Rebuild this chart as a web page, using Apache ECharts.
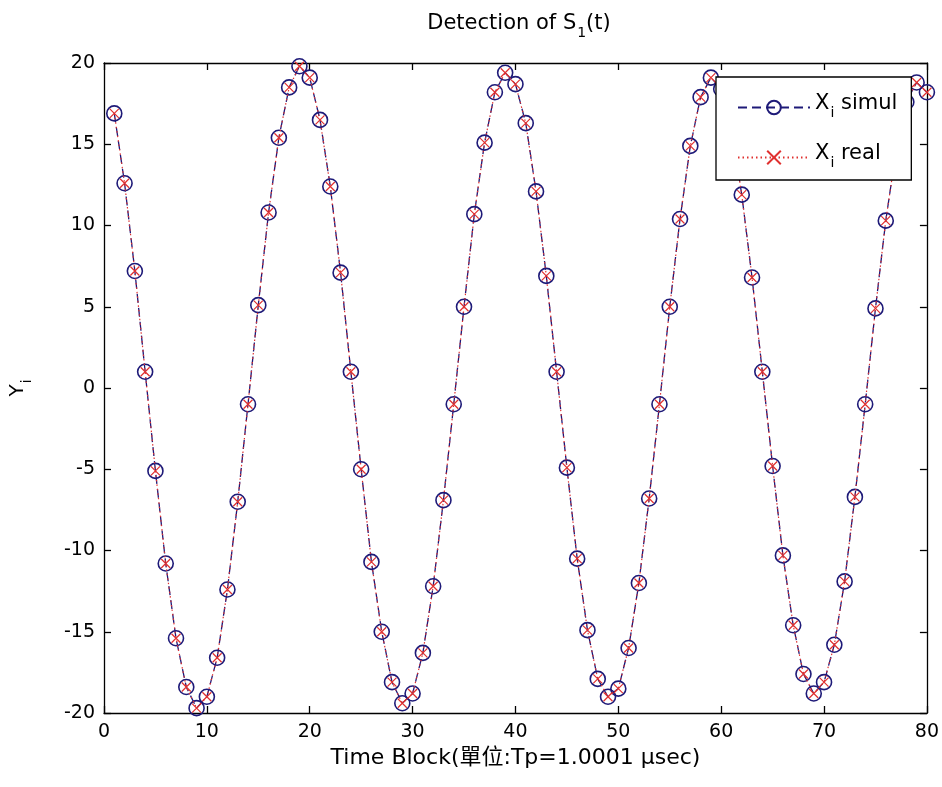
<!DOCTYPE html>
<html>
<head>
<meta charset="utf-8">
<script src="https://cdn.jsdelivr.net/npm/echarts@6/dist/echarts.min.js"></script>
<style>
  html, body { margin: 0; padding: 0; background: #fff; }
  #chart { width: 942px; height: 787px; }
</style>
</head>
<body>
<div id="chart"></div>
<script>
// Time block indices
const timeBlocks = [
  1, 2, 3, 4, 5, 6, 7, 8, 9, 10,
  11, 12, 13, 14, 15, 16, 17, 18, 19, 20,
  21, 22, 23, 24, 25, 26, 27, 28, 29, 30,
  31, 32, 33, 34, 35, 36, 37, 38, 39, 40,
  41, 42, 43, 44, 45, 46, 47, 48, 49, 50,
  51, 52, 53, 54, 55, 56, 57, 58, 59, 60,
  61, 62, 63, 64, 65, 66, 67, 68, 69, 70,
  71, 72, 73, 74, 75, 76, 77, 78, 79, 80
];

// Simulated detector output X_i
const simulValues = [
  16.9, 12.6, 7.2, 1.0, -5.1, -10.8, -15.4, -18.4, -19.7, -19.0,
  -16.6, -12.4, -7.0, -1.0, 5.1, 10.8, 15.4, 18.5, 19.8, 19.1,
  16.5, 12.4, 7.1, 1.0, -5.0, -10.7, -15.0, -18.1, -19.4, -18.8,
  -16.3, -12.2, -6.9, -1.0, 5.0, 10.7, 15.1, 18.2, 19.4, 18.7,
  16.3, 12.1, 6.9, 1.0, -4.9, -10.5, -14.9, -17.9, -19.0, -18.5,
  -16.0, -12.0, -6.8, -1.0, 5.0, 10.4, 14.9, 17.9, 19.1, 18.4,
  15.9, 11.9, 6.8, 1.0, -4.8, -10.3, -14.6, -17.6, -18.8, -18.1,
  -15.8, -11.9, -6.7, -1.0, 4.9, 10.3, 14.6, 17.6, 18.8, 18.2
];

// Measured detector output X_i
const realValues = [
  16.9, 12.6, 7.2, 1.0, -5.1, -10.8, -15.4, -18.4, -19.7, -19.0,
  -16.6, -12.4, -7.0, -1.0, 5.1, 10.8, 15.4, 18.5, 19.8, 19.1,
  16.5, 12.4, 7.1, 1.0, -5.0, -10.7, -15.0, -18.1, -19.4, -18.8,
  -16.3, -12.2, -6.9, -1.0, 5.0, 10.7, 15.1, 18.2, 19.4, 18.7,
  16.3, 12.1, 6.9, 1.0, -4.9, -10.5, -14.9, -17.9, -19.0, -18.5,
  -16.0, -12.0, -6.8, -1.0, 5.0, 10.4, 14.9, 17.9, 19.1, 18.4,
  15.9, 11.9, 6.8, 1.0, -4.8, -10.3, -14.6, -17.6, -18.8, -18.1,
  -15.8, -11.9, -6.7, -1.0, 4.9, 10.3, 14.6, 17.6, 18.8, 18.2
];

const xRange = { min: 0, max: 80, step: 10 };
const yRange = { min: -20, max: 20, step: 5 };

const FONT = "'DejaVu Sans', 'Noto Sans CJK TC', sans-serif";
const NAVY = '#1e1a78';
const RED = '#e0302f';

const pairs = (xs, ys) => xs.map((x, i) => [x, ys[i]]);

// Rich-text styles: normal text plus a lowered, smaller subscript
const subRich = (size) => ({
  n: { fontFamily: FONT, fontSize: size, color: '#000', verticalAlign: 'top', lineHeight: size + 8 },
  s: { fontFamily: FONT, fontSize: Math.round(size * 0.68), color: '#000', verticalAlign: 'top', padding: [Math.round(size * 0.62), 0, 0, 1], lineHeight: size + 8 }
});

// Shared look of the four sides of the plot box (ticks point inward)
const frameAxis = {
  axisLine: { show: true, onZero: false, lineStyle: { color: '#000', width: 1.3 } },
  axisTick: { show: true, inside: true, length: 7, lineStyle: { color: '#000', width: 1.3 } },
  splitLine: { show: false }
};

const chart = echarts.init(document.getElementById('chart'), null, { renderer: 'canvas' });

chart.setOption({
  backgroundColor: '#fff',
  animation: false,
  title: {
    text: '{n|Detection of S}{s|1}{n|(t)}',
    left: 514,
    textAlign: 'center',
    top: 8,
    textStyle: { rich: subRich(21), fontWeight: 'normal' }
  },
  grid: { left: 103, right: 13, top: 63, bottom: 74 },
  legend: {
    orient: 'vertical',
    left: 716,
    top: 77,
    z: 100,
    padding: [16, 14, 10, 21],
    itemGap: 23,
    itemWidth: 72,
    itemHeight: 17,
    backgroundColor: '#fff',
    borderColor: '#000',
    borderWidth: 1.3,
    borderRadius: 0,
    data: ['simul', 'real'],
    formatter: (name) => '{n|X}{s|i}{n| ' + name + '}',
    textStyle: { rich: subRich(21) }
  },
  xAxis: [
    Object.assign({
      type: 'value', position: 'bottom',
      min: xRange.min, max: xRange.max, interval: xRange.step,
      name: 'Time Block(單位:Tp=1.0001 μsec)',
      nameLocation: 'middle', nameGap: 33,
      nameTextStyle: { fontFamily: FONT, fontSize: 22, color: '#000' },
      axisLabel: { show: true, margin: 10, fontFamily: FONT, fontSize: 19, color: '#000', showMinLabel: true, showMaxLabel: true }
    }, frameAxis),
    Object.assign({
      type: 'value', position: 'top',
      min: xRange.min, max: xRange.max, interval: xRange.step,
      axisLabel: { show: false }
    }, frameAxis)
  ],
  yAxis: [
    Object.assign({
      type: 'value', position: 'left',
      min: yRange.min, max: yRange.max, interval: yRange.step,
      name: '{n|Y}{s|i}',
      nameLocation: 'middle', nameGap: 68, nameRotate: 90,
      nameTextStyle: { rich: subRich(20) },
      axisLabel: { show: true, margin: 9, fontFamily: FONT, fontSize: 19, color: '#000', showMinLabel: true, showMaxLabel: true }
    }, frameAxis),
    Object.assign({
      type: 'value', position: 'right',
      min: yRange.min, max: yRange.max, interval: yRange.step,
      axisLabel: { show: false }
    }, frameAxis)
  ],
  series: [
    {
      name: 'simul',
      type: 'line',
      xAxisIndex: 0, yAxisIndex: 0,
      data: pairs(timeBlocks, simulValues),
      symbol: 'circle',
      symbolSize: 15,
      showAllSymbol: true,
      lineStyle: { color: NAVY, width: 1.3, type: [9, 5] },
      itemStyle: { color: 'rgba(255,255,255,0)', borderColor: NAVY, borderWidth: 1.6 },
      z: 2
    },
    {
      name: 'real',
      type: 'line',
      xAxisIndex: 0, yAxisIndex: 0,
      data: pairs(timeBlocks, realValues),
      symbol: 'path://M0,0L10,10M0,10L10,0',
      symbolSize: 9,
      showAllSymbol: true,
      lineStyle: { color: RED, width: 1.2, type: [1.5, 3] },
      itemStyle: { color: 'none', borderColor: RED, borderWidth: 1.2 },
      z: 3
    }
  ]
});
</script>
</body>
</html>
